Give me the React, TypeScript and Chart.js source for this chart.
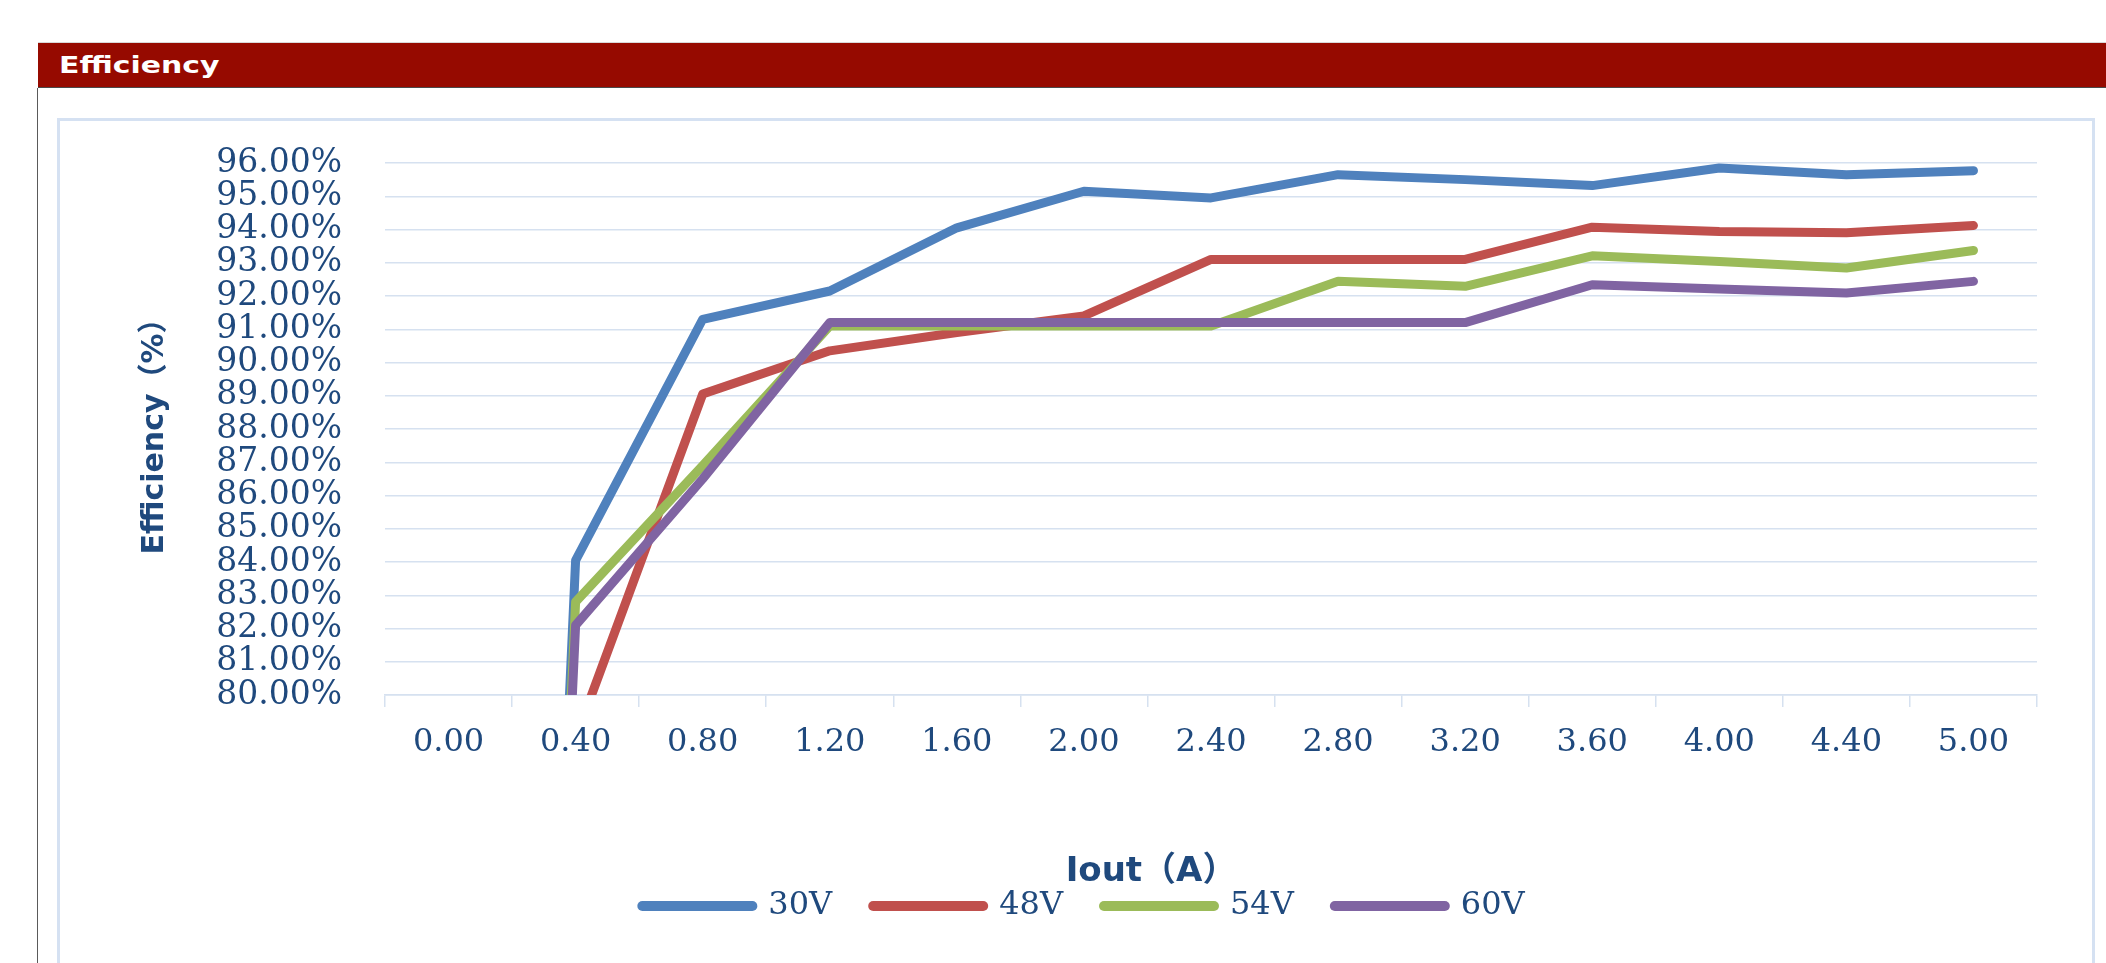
import React, { useEffect, useRef } from 'react';
import { Chart, registerables } from 'chart.js';

Chart.register(...registerables);

// ---- data ----
const categories = ['0.00', '0.40', '0.80', '1.20', '1.60', '2.00', '2.40', '2.80', '3.20', '3.60', '4.00', '4.40', '5.00'];
const series30V = [0, 84.05, 91.3, 92.15, 94.05, 95.15, 94.95, 95.65, 95.5, 95.32, 95.85, 95.65, 95.77];
const series48V = [0, 78.7, 89.05, 90.35, 90.9, 91.4, 93.1, 93.1, 93.1, 94.07, 93.94, 93.9, 94.12];
const series54V = [0, 82.8, 86.9, 91.1, 91.1, 91.1, 91.1, 92.44, 92.29, 93.21, 93.04, 92.84, 93.37];
const series60V = [0, 82.1, 86.5, 91.2, 91.2, 91.2, 91.2, 91.2, 91.2, 92.34, 92.21, 92.09, 92.44];
const seriesLabels = ['30V', '48V', '54V', '60V'];
const yMin = 80;
const yMax = 96;
const yStep = 1;
const headerTitle = 'Efficiency';
const yAxisTitle = 'Efficiency（%）';
const xAxisTitle = 'Iout（A）';

const COLORS = ['#4F81BD', '#C0504D', '#9BBB59', '#8064A2'];
const TEXT = '#1F497D';
const GRID = '#D6E1F0';
const SERIF = '"DejaVu Serif", serif';
const SANS = '"DejaVu Sans", "Noto Sans CJK SC", sans-serif';

const xTitlePlugin = {
  id: 'xTitleCustom',
  afterDraw(chart: any) {
    const { ctx, chartArea, scales } = chart;
    const xs = scales.x;
    const x = xs.left + (xs.right - xs.left) * 0.4637;
    const y = chartArea.bottom + 177;
    ctx.save();
    ctx.font = `bold 34px ${SANS}`;
    ctx.fillStyle = TEXT;
    ctx.textAlign = 'center';
    ctx.textBaseline = 'middle';
    ctx.fillText(xAxisTitle, x, y);
    ctx.restore();
  },
};

export default function App() {
  const canvasRef = useRef<HTMLCanvasElement | null>(null);

  useEffect(() => {
    document.body.style.margin = '0';
    const canvas = canvasRef.current;
    if (!canvas) return;
    const allSeries = [series30V, series48V, series54V, series60V];
    const chart = new Chart(canvas, {
      type: 'line',
      data: {
        labels: categories,
        datasets: allSeries.map((s, i) => ({
          label: seriesLabels[i],
          data: s,
          borderColor: COLORS[i],
          backgroundColor: COLORS[i],
          borderWidth: 9,
          pointRadius: 0,
          pointHoverRadius: 0,
          tension: 0,
          borderCapStyle: 'round',
          borderJoinStyle: 'round',
          clip: 0,
          order: allSeries.length - 1 - i,
        })),
      },
      options: {
        animation: false,
        responsive: true,
        maintainAspectRatio: false,
        events: [],
        layout: { padding: { left: 70, right: 55, top: 42, bottom: 31 } },
        plugins: {
          tooltip: { enabled: false },
          title: { display: false },
          legend: {
            position: 'bottom',
            labels: {
              usePointStyle: true,
              pointStyle: 'line',
              pointStyleWidth: 110,
              padding: 41,
              color: TEXT,
              font: { family: SERIF, size: 32 },
              sort: (a: any, b: any) => a.datasetIndex - b.datasetIndex,
              generateLabels: (chart: any) =>
                (Chart.defaults.plugins.legend.labels as any)
                  .generateLabels(chart)
                  .map((l: any) => ({ ...l, lineWidth: 10, lineCap: 'round' })),
            },
          },
        },
        scales: {
          x: {
            type: 'category',
            offset: true,
            grid: {
              display: true,
              drawOnChartArea: false,
              drawTicks: true,
              tickLength: 12,
              offset: true,
              color: GRID,
              lineWidth: 1.5,
            },
            border: { display: true, color: GRID, width: 1.5 },
            ticks: {
              color: TEXT,
              font: { family: SERIF, size: 32 },
              padding: 16,
              maxRotation: 0,
              autoSkip: false,
            },
            afterFit: (s: any) => {
              s.height = 154;
            },
          },
          y: {
            min: yMin,
            max: yMax,
            grid: {
              color: GRID,
              lineWidth: 1.5,
              drawTicks: true,
              tickLength: 43,
              tickColor: 'rgba(0,0,0,0)',
            },
            border: { display: false },
            ticks: {
              stepSize: yStep,
              autoSkip: false,
              color: TEXT,
              font: { family: SERIF, size: 33 },
              padding: 0,
              callback: (v: any) => Number(v).toFixed(2) + '%',
            },
            title: {
              display: true,
              text: yAxisTitle,
              color: TEXT,
              font: { family: SANS, size: 30, weight: 'bold' },
              padding: { top: 7, bottom: 0 },
            },
            afterFit: (s: any) => {
              s.width = 255;
            },
          },
        },
      } as any,
      plugins: [xTitlePlugin],
    });
    return () => chart.destroy();
  }, []);

  return (
    <div style={{ position: 'fixed', left: 0, top: 0, width: 2106, height: 963, overflow: 'hidden', background: '#ffffff' }}>
      <div style={{ position: 'absolute', left: 38, top: 42, width: 2068, height: 1, background: '#d8d8d8' }} />
      <div style={{ position: 'absolute', left: 38, top: 43, width: 2068, height: 44, background: '#960A00' }} />
      <div style={{ position: 'absolute', left: 38, top: 87, width: 2068, height: 1, background: '#4a4a4a' }} />
      <div style={{ position: 'absolute', left: 37, top: 88, width: 1, height: 875, background: '#5a5a5a' }} />
      <span
        style={{
          position: 'absolute',
          left: 59,
          top: 54,
          fontFamily: SANS,
          fontWeight: 'bold',
          fontSize: 23,
          lineHeight: '23px',
          color: '#ffffff',
          transform: 'scaleX(1.3)',
          transformOrigin: 'left center',
          whiteSpace: 'nowrap',
        }}
      >
        {headerTitle}
      </span>
      <div
        style={{
          position: 'absolute',
          left: 57,
          top: 118,
          width: 2038,
          height: 900,
          border: '3px solid #D5E1F2',
          boxSizing: 'border-box',
          background: '#ffffff',
        }}
      />
      <div style={{ position: 'absolute', left: 60, top: 121, width: 2032, height: 842 }}>
        <canvas ref={canvasRef} />
      </div>
    </div>
  );
}
